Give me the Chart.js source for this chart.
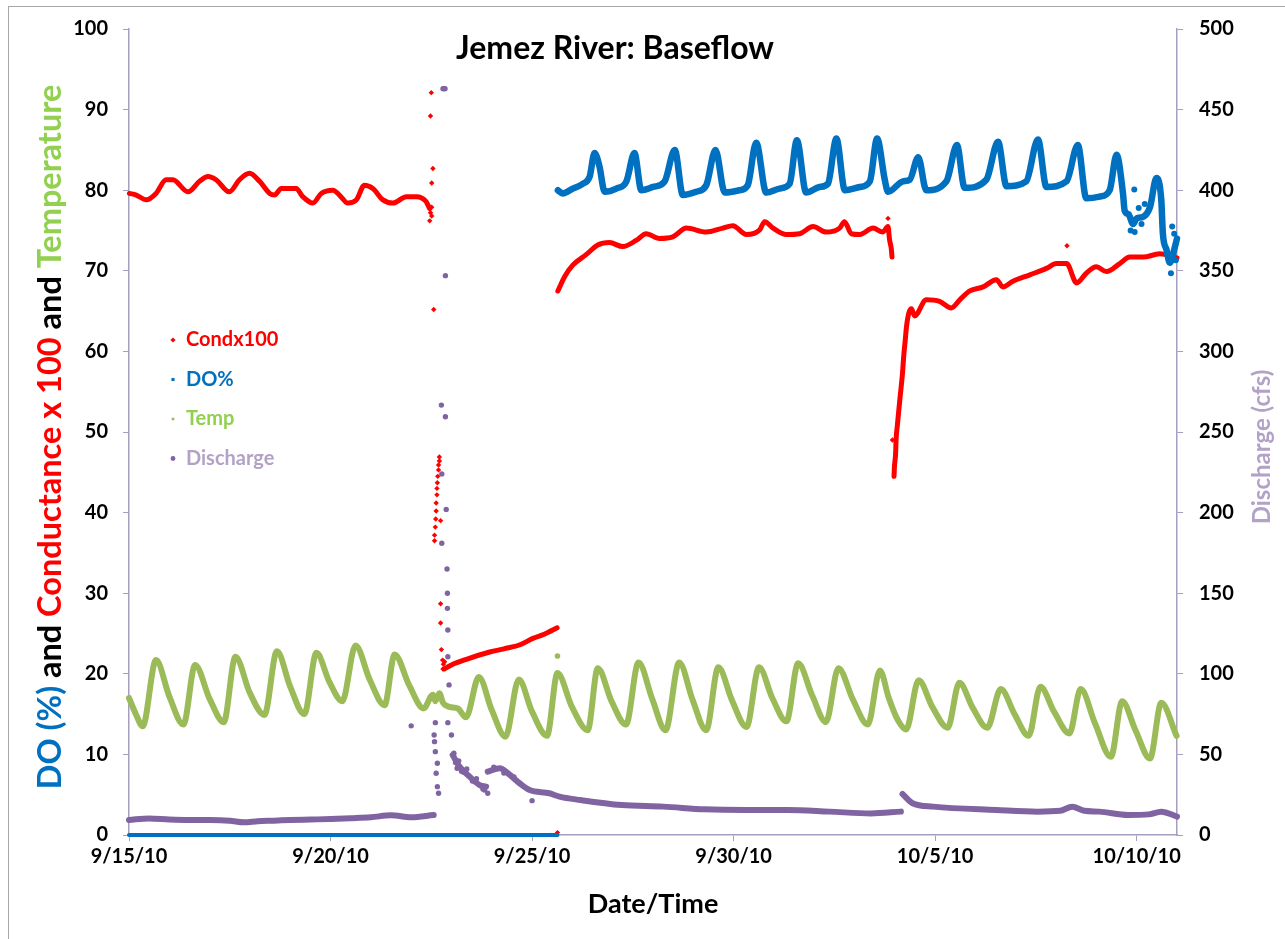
<!DOCTYPE html>
<html>
<head>
<meta charset="utf-8">
<title>Jemez River: Baseflow</title>
<script src="https://cdn.jsdelivr.net/npm/chart.js@4.4.1/dist/chart.umd.min.js"></script>
<style>
  html, body { margin: 0; padding: 0; background: #ffffff; }
  #wrap { position: relative; width: 1285px; height: 939px; }
</style>
</head>
<body>
<div id="wrap"><canvas id="chart"></canvas></div>
<script>
// Time is counted in days from 9/15/10 00:00.
const xTickDays = [0, 5, 10, 15, 20, 25];
const xTickLabels = ['9/15/10', '9/20/10', '9/25/10', '9/30/10', '10/5/10', '10/10/10'];

// Conductance x 100 (continuous record, null = gap between sondes)
const condDay = [
  0.01, 0.18, 0.43, 0.67, 0.92, 1.09, 1.46, 1.75, 1.96, 2.16, 2.49, 2.74, 2.99, 3.24, 3.49, 3.61, 3.78, 3.98,
  4.15, 4.31, 4.56, 4.77, 5.06, 5.22, 5.43, 5.64, 5.84, 6.05, 6.30, 6.55, 6.88, 7.13, 7.37, 7.46,
  7.47,
  7.82, 8.00, 8.37, 8.95, 9.30, 9.70, 10.02, 10.30, 10.62,
  10.63,
  10.64, 10.81, 11.01, 11.34, 11.63, 11.92, 12.25, 12.59, 12.83, 13.16, 13.49, 13.83, 14.32, 14.73, 14.98,
  15.32, 15.65, 15.77, 15.98, 16.31, 16.64, 16.97, 17.30, 17.63, 17.75, 17.92, 18.13, 18.46, 18.70, 18.83,
  18.87, 18.91, 18.93,
  18.95,
  18.98, 18.99, 19.02, 19.03, 19.06, 19.10, 19.14, 19.19, 19.22, 19.26, 19.29, 19.35, 19.41, 19.49, 19.78,
  20.11, 20.40, 20.61, 20.86, 21.19, 21.52, 21.68, 21.93, 22.35, 22.76, 23.01, 23.26, 23.51, 23.75, 24.00,
  24.25, 24.58, 24.83, 25.16, 25.57, 26.00
];
const condValue = [
  79.6, 79.4, 78.8, 79.6, 81.3, 81.3, 79.8, 81.1, 81.7, 81.3, 79.8, 81.3, 82.1, 81.1, 79.6, 79.4, 80.2, 80.2,
  80.2, 79.2, 78.4, 79.6, 80.0, 79.4, 78.4, 78.8, 80.6, 80.2, 78.8, 78.4, 79.2, 79.2, 78.6, 77.7,
  null,
  20.6, 21.1, 21.8, 22.7, 23.1, 23.6, 24.4, 24.9, 25.7,
  null,
  67.5, 69.3, 70.7, 72.0, 73.2, 73.5, 73.0, 73.8, 74.6, 74.0, 74.2, 75.3, 74.8, 75.3, 75.6,
  74.5, 75.1, 76.1, 75.3, 74.5, 74.6, 75.5, 74.8, 75.3, 76.1, 74.6, 74.5, 75.3, 74.8, 75.5,
  73.8, 72.8, 71.7,
  null,
  44.5, 45.7, 47.4, 49.0, 50.7, 52.8, 54.8, 57.3, 59.4, 61.5, 63.1, 64.8, 65.3, 64.4, 66.4,
  66.2, 65.4, 66.4, 67.5, 68.0, 68.9, 68.0, 68.7, 69.5, 70.3, 70.9, 70.9, 68.5, 69.7, 70.5,
  69.9, 70.9, 71.7, 71.7, 72.1, 71.6
];
// Conductance x 100, scattered readings during the storm and sonde swaps
const condSpotDay = [
  7.48, 7.51, 7.46, 7.51, 7.50, 7.48, 7.54, 7.51, 7.56, 7.70, 7.70, 7.68, 7.68, 7.66, 7.65, 7.64, 7.64, 7.62,
  7.62, 7.61, 7.73, 7.60, 7.58, 7.58, 7.73, 7.73, 7.75, 7.78, 7.80, 7.79, 7.83, 10.63, 23.27, 18.94, 18.83
];
const condSpotValue = [
  77.2, 76.8, 76.2, 77.9, 92.1, 89.2, 82.7, 80.9, 65.2, 46.9, 46.4, 45.9, 45.3, 44.5, 43.7, 43.0, 42.2, 41.2,
  40.2, 39.2, 39.0, 38.2, 37.2, 36.5, 28.7, 26.3, 23.0, 21.7, 21.2, 20.6, 21.5, 0.3, 73.1, 49.0, 76.5
];

// Dissolved oxygen (%)
const doDay = [
  0.00, 10.63,
  10.635,
  10.64, 10.76, 11.01, 11.26, 11.43, 11.55, 11.67, 11.80, 12.09, 12.34, 12.54, 12.71, 13.00, 13.29, 13.54,
  13.74, 14.07, 14.32, 14.55, 14.78, 15.15, 15.35, 15.56, 15.81, 16.14, 16.39, 16.57, 16.80, 17.13, 17.34,
  17.55, 17.76, 18.13, 18.38, 18.56, 18.75, 18.83, 19.20, 19.37, 19.58, 19.78, 20.28, 20.54, 20.73, 21.27,
  21.56, 21.77, 22.26, 22.55, 22.76, 23.26, 23.54, 23.75, 24.08, 24.33, 24.50, 24.66, 24.70, 24.80, 24.91,
  25.00, 25.16, 25.33, 25.49, 25.61, 25.65, 25.74, 25.82, 25.95, 26.00
];
const doValue = [
  0, 0,
  null,
  80.0, 79.6, 80.2, 80.8, 81.7, 84.6, 83.0, 79.8, 80.2, 81.1, 84.6, 80.0, 80.4, 81.1, 85.0,
  79.4, 79.8, 80.6, 85.0, 79.7, 80.0, 80.6, 85.9, 79.7, 80.2, 80.8, 86.2, 79.7, 80.4, 80.8,
  86.4, 80.0, 80.4, 81.1, 86.4, 81.3, 79.8, 81.1, 81.3, 84.1, 80.0, 81.1, 85.6, 80.3, 81.3,
  86.0, 80.5, 81.1, 86.3, 80.4, 81.1, 85.6, 79.0, 79.2, 80.0, 84.4, 79.6, 77.5, 77.0, 75.8,
  76.5, 76.7, 77.9, 81.5, 78.8, 74.6, 72.6, 71.0, 73.0, 74.0
];
const doSpotDay = [24.94, 24.85, 24.95, 25.05, 25.12, 25.20, 25.85, 25.90, 25.93, 25.97, 25.88];
const doSpotValue = [80.1, 75.0, 74.8, 77.8, 75.8, 78.3, 69.7, 72.0, 74.6, 71.3, 75.5];

// Water temperature
const tempDay = [
  0.00, 0.17, 0.34, 0.67, 1.00, 1.35, 1.64, 2.00, 2.35, 2.64, 3.00, 3.36, 3.67, 4.00, 4.35, 4.65, 4.97, 5.29,
  5.62, 5.97, 6.34, 6.59, 6.95, 7.31, 7.54, 7.60, 7.70, 7.79, 7.95, 8.16, 8.36, 8.68, 9.00, 9.34, 9.67, 10.00,
  10.37, 10.63, 10.98, 11.38, 11.63, 11.97, 12.33, 12.64, 12.98, 13.31, 13.65, 13.98, 14.32, 14.62, 14.96,
  15.32, 15.63, 15.96, 16.31, 16.60, 16.95, 17.29, 17.60, 17.96, 18.33, 18.63, 18.85, 19.07, 19.28, 19.59,
  19.93, 20.31, 20.60, 20.93, 21.29, 21.63, 21.97, 22.32, 22.61, 22.95, 23.33, 23.61, 23.97, 24.36, 24.64,
  24.97, 25.33, 25.61, 25.99
];
const tempValue = [
  17.0, 15.0, 13.5, 21.7, 17.2, 13.7, 21.1, 16.9, 14.0, 22.1, 17.6, 14.9, 22.8, 18.4, 15.0, 22.6, 19.0, 16.6,
  23.5, 19.3, 16.1, 22.4, 18.6, 15.7, 17.4, 16.6, 17.6, 16.4, 15.9, 15.7, 14.6, 19.6, 15.5, 12.2, 19.3, 15.3,
  12.3, 20.1, 16.0, 13.0, 20.7, 16.6, 13.7, 21.4, 16.9, 13.0, 21.4, 16.8, 13.0, 20.8, 16.7,
  13.4, 20.8, 17.0, 14.1, 21.3, 17.3, 14.0, 20.7, 16.8, 13.7, 20.4, 17.0, 14.3, 13.1, 19.2,
  15.9, 13.3, 18.9, 15.8, 13.3, 18.1, 15.0, 12.3, 18.4, 15.3, 12.6, 18.1, 13.8, 9.7, 16.6,
  13.0, 9.5, 16.4, 12.3
];
const tempSpotDay = [10.63];
const tempSpotValue = [22.2];

// Discharge (cfs), right-hand axis
const dischargeDay = [
  0.00, 0.50, 1.00, 1.50, 2.00, 2.50, 2.85, 3.20, 3.60, 4.00, 4.50, 5.00, 5.50, 6.00, 6.50, 7.00, 7.56,
  7.60,
  8.03, 8.20, 8.45, 8.70, 8.86,
  8.88,
  8.90, 9.20, 9.40, 9.69, 9.94, 10.43, 10.68, 11.20, 12.22, 13.26, 14.29, 15.32, 16.34, 17.38, 18.41, 19.15,
  19.17,
  19.19, 19.44, 19.95, 21.52, 22.54, 23.10, 23.40, 23.70, 24.07, 24.79, 25.30, 25.61, 26.00
];
const dischargeValue = [
  9.3, 10.3, 9.6, 9.3, 9.3, 8.9, 7.9, 8.6, 8.9, 9.3, 9.6, 9.9, 10.4, 11.0, 12.2, 11.0, 12.4,
  null,
  49.6, 42.4, 36.2, 31.0, 30.0,
  null,
  39.3, 41.4, 38.3, 32.1, 27.9, 25.9, 23.8, 21.7, 18.6, 17.6, 15.9, 15.5, 15.5, 14.5, 13.4, 14.5,
  null,
  25.4, 19.7, 17.6, 15.5, 14.5, 15.0, 17.6, 15.0, 14.5, 12.4, 12.8, 14.5, 11.4
];
const dischargeSpotDay = [
  7.00, 7.57, 7.58, 7.60, 7.60, 7.65, 7.62, 7.65, 7.68, 7.76, 7.76, 7.75, 7.79, 7.81, 7.84, 7.85, 7.85, 7.87,
  7.89, 7.90, 7.90, 7.91, 7.91, 7.94, 7.91, 8.00, 8.06, 8.14, 8.25, 8.60, 8.90, 10.00,
  8.10, 8.18, 8.30, 8.38, 8.52, 8.62, 8.78, 8.82, 9.05, 9.30, 9.55
];
const dischargeSpotValue = [
  67.7, 62.0, 57.9, 69.7, 51.7, 44.5, 38.3, 30.0, 25.9, 181, 224, 266.7, 463, 463, 463, 347, 259.5, 202,
  165, 150, 140.6, 127.2, 110.6, 93.1, 69.7, 62.0, 50.7, 41.4, 39.5, 33.0, 25.9, 21.3,
  45.0, 46.0, 39.0, 41.0, 33.5, 35.0, 28.5, 27.9, 42.0, 38.5, 36.0
];

const COLORS = {
  cond: '#FF0000',
  dO: '#0070C0',
  temp: '#9BBB59',
  tempText: '#92D050',
  discharge: '#8064A2',
  dischargeText: '#B3A2C7',
  axis: '#A59EC0',
  frame: '#A6A6A6'
};
const FONT = 'Lato';

function pairs(days, values) {
  return days.map((d, i) => ({ x: d, y: values[i] }));
}

function traceSet(label, days, values, color, width, radius, axis, order, style, smooth) {
  return {
    label, data: pairs(days, values), showLine: true, spanGaps: false,
    borderColor: color, backgroundColor: color, borderWidth: width,
    borderJoinStyle: 'round', borderCapStyle: 'round',
    pointRadius: radius, pointStyle: style || 'circle', pointBorderWidth: 0,
    yAxisID: axis, order, clip: 10,
    cubicInterpolationMode: smooth ? 'monotone' : 'default', tension: 0
  };
}
function spotSet(label, days, values, color, radius, axis, order, style) {
  return {
    label, data: pairs(days, values), showLine: false,
    borderColor: color, backgroundColor: color, borderWidth: 0,
    pointRadius: radius, pointStyle: style || 'circle', pointBorderWidth: 0,
    yAxisID: axis, order, clip: 10
  };
}

const legendEntries = [
  { text: 'Condx100', marker: COLORS.cond, textColor: COLORS.cond, style: 'rectRot', r: 2.6 },
  { text: 'DO%', marker: COLORS.dO, textColor: COLORS.dO, style: 'rect', r: 2.2 },
  { text: 'Temp', marker: COLORS.temp, textColor: COLORS.tempText, style: 'rect', r: 1.8 },
  { text: 'Discharge', marker: COLORS.discharge, textColor: COLORS.dischargeText, style: 'circle', r: 2.4 }
];

const leftTitleParts = [
  { text: 'DO (%)', color: COLORS.dO },
  { text: ' and ', color: '#000000' },
  { text: 'Conductance x 100', color: COLORS.cond },
  { text: ' and ', color: '#000000' },
  { text: 'Temperature', color: COLORS.tempText }
];

const textLayer = {
  id: 'textLayer',
  beforeDraw(chart) {
    const ctx = chart.ctx;
    ctx.save();
    ctx.fillStyle = '#ffffff';
    ctx.fillRect(0, 0, chart.width, chart.height);
    ctx.strokeStyle = COLORS.frame;
    ctx.lineWidth = 1;
    ctx.strokeRect(8.5, 6.5, chart.width + 20, chart.height + 20);
    ctx.restore();
  },
  afterDraw(chart) {
    const ctx = chart.ctx;
    const area = chart.chartArea;
    ctx.save();

    // chart title
    ctx.fillStyle = '#000000';
    ctx.font = `bold 32px ${FONT}`;
    ctx.textAlign = 'center';
    ctx.textBaseline = 'middle';
    ctx.fillText('Jemez River: Baseflow', 615, 49);

    // x-axis title
    ctx.font = `bold 27px ${FONT}`;
    ctx.fillText('Date/Time', 653, 904);

    // left axis title, several colours
    ctx.save();
    ctx.translate(51, 437);
    ctx.rotate(-Math.PI / 2);
    ctx.font = `bold 32.5px ${FONT}`;
    ctx.textAlign = 'left';
    const total = leftTitleParts.reduce((s, p) => s + ctx.measureText(p.text).width, 0);
    let pos = -total / 2;
    for (const p of leftTitleParts) {
      ctx.fillStyle = p.color;
      ctx.fillText(p.text, pos, 0);
      pos += ctx.measureText(p.text).width;
    }
    ctx.restore();

    // right axis title
    ctx.save();
    ctx.translate(1262, 447);
    ctx.rotate(-Math.PI / 2);
    ctx.font = `bold 24px ${FONT}`;
    ctx.textAlign = 'center';
    ctx.fillStyle = COLORS.dischargeText;
    ctx.fillText('Discharge (cfs)', 0, 0);
    ctx.restore();

    // legend inside the plot area
    ctx.font = `bold 20px ${FONT}`;
    ctx.textAlign = 'left';
    legendEntries.forEach((e, i) => {
      const y = area.top + 311 + i * 39.5;
      ctx.fillStyle = e.marker;
      Chart.helpers.drawPoint(ctx, { pointStyle: e.style, radius: e.r, rotation: 0, borderWidth: 0 }, area.left + 44, y);
      ctx.fillStyle = e.textColor;
      ctx.fillText(e.text, area.left + 57, y);
    });
    ctx.restore();
  }
};

const tickFont = { family: FONT, weight: 'bold', size: 20 };

const doTrace = traceSet('DO%', doDay, doValue, COLORS.dO, 6.5, 2.5, 'y', 3, 'circle', true);
// the zero-valued stretch (no oxygen probe yet) is a thinner band
doTrace.segment = { borderWidth: (c) => (c.p0.parsed.y === 0 && c.p1.parsed.y === 0 ? 4 : undefined) };
doTrace.pointRadius = (c) => (c.raw && c.raw.y === 0 ? 0 : 2.5);

new Chart(document.getElementById('chart'), {
  type: 'scatter',
  data: {
    datasets: [
      traceSet('Condx100', condDay, condValue, COLORS.cond, 5, 2, 'y', 4, 'rectRot', true),
      spotSet('Condx100 spot', condSpotDay, condSpotValue, COLORS.cond, 2.7, 'y', 4, 'rectRot'),
      doTrace,
      spotSet('DO% spot', doSpotDay, doSpotValue, COLORS.dO, 3, 'y', 3),
      traceSet('Temp', tempDay, tempValue, COLORS.temp, 6, 2.3, 'y', 2, 'circle', true),
      spotSet('Temp spot', tempSpotDay, tempSpotValue, COLORS.temp, 2.8, 'y', 2),
      traceSet('Discharge', dischargeDay, dischargeValue, COLORS.discharge, 6, 2.3, 'y2', 1, 'circle', true),
      spotSet('Discharge spot', dischargeSpotDay, dischargeSpotValue, COLORS.discharge, 2.7, 'y2', 1)
    ]
  },
  options: {
    responsive: true,
    maintainAspectRatio: false,
    animation: false,
    events: [],
    devicePixelRatio: 1,
    layout: { padding: { top: 29, left: 0, right: 0, bottom: 0 } },
    plugins: { legend: { display: false }, tooltip: { enabled: false }, title: { display: false } },
    scales: {
      x: {
        type: 'linear', position: 'bottom', min: 0, max: 26,
        afterBuildTicks: (s) => { s.ticks = xTickDays.map(v => ({ value: v })); },
        afterFit: (s) => { s.height = 104; },
        ticks: {
          callback: (v) => xTickLabels[xTickDays.indexOf(v)],
          font: tickFont, color: '#000000', padding: 4, maxRotation: 0, autoSkip: false
        },
        grid: { display: true, drawOnChartArea: false, drawTicks: true, tickLength: 6, color: COLORS.axis },
        border: { display: true, color: COLORS.axis, width: 1.5 }
      },
      y: {
        type: 'linear', position: 'left', min: 0, max: 100,
        afterFit: (s) => { s.width = 129; },
        ticks: { stepSize: 10, font: tickFont, color: '#000000', padding: 15 },
        grid: { display: true, drawOnChartArea: false, drawTicks: true, tickLength: 6, color: COLORS.axis },
        border: { display: true, color: COLORS.axis, width: 1.5 }
      },
      y2: {
        type: 'linear', position: 'right', min: 0, max: 500,
        afterFit: (s) => { s.width = 108; },
        ticks: { stepSize: 50, font: tickFont, color: '#000000', padding: 16 },
        grid: { display: true, drawOnChartArea: false, drawTicks: true, tickLength: 6, color: COLORS.axis },
        border: { display: true, color: COLORS.axis, width: 1.5 }
      }
    }
  },
  plugins: [textLayer]
});
</script>
</body>
</html>
